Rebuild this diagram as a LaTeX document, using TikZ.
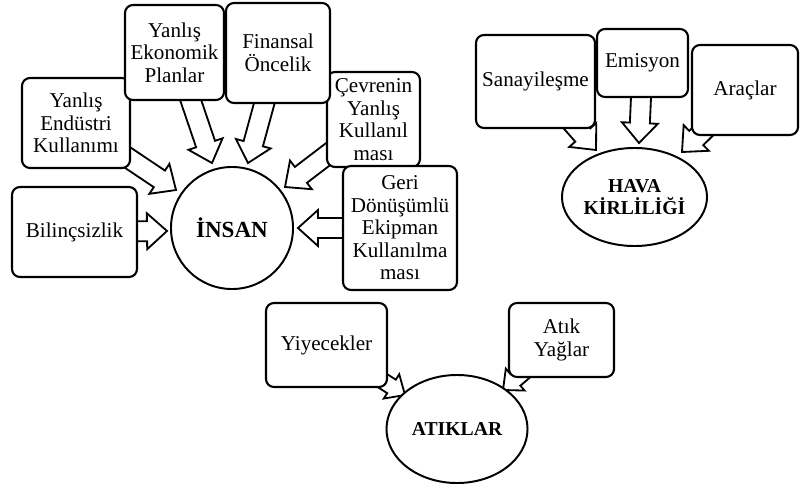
\documentclass[tikz,border=0pt]{standalone}
\usepackage{fontspec}
\setmainfont{Liberation Serif}
\usetikzlibrary{calc,backgrounds,shapes.geometric}
\newcommand{\blockarrow}[3][1]{%
  \coordinate (hb) at ($(#3)!#1*0.5cm!(#2)$);
  \draw[blockarr] ($(#2)!#1*0.25cm!90:(#3)$) -- ($(hb)!#1*0.25cm!90:(#3)$) -- ($(hb)!#1*0.45cm!90:(#3)$) -- (#3)
    -- ($(hb)!#1*0.45cm!-90:(#3)$) -- ($(hb)!#1*0.25cm!-90:(#3)$) -- ($(#2)!#1*0.25cm!-90:(#3)$) -- cycle;}
\begin{document}
\begin{tikzpicture}[x=0.025cm,y=-0.025cm,line join=round,
  tbox/.style={draw,fill=white,rounded corners=0.2cm,line width=1.5pt,align=center,inner sep=0pt,font=\fontsize{15}{16}\selectfont},
  hub/.style={draw,fill=white,ellipse,line width=1.4pt,align=center,inner sep=0pt,font=\bfseries\fontsize{14}{15.5}\selectfont},
  blockarr/.style={draw,fill=white,line width=1.3pt,line join=miter}]
\useasboundingbox (0,0) rectangle (800,486);
\node[tbox,minimum width=3.125cm,minimum height=2.25cm] (bilinc) at (74.5,232) {Bilinçsizlik};
\node[tbox,minimum width=2.7cm,minimum height=2.25cm] (endustri) at (76,123) {Yanlış\\Endüstri\\Kullanımı};
\node[tbox,minimum width=2.475cm,minimum height=2.375cm] (ekonomik) at (174.5,52.5) {Yanlış\\Ekonomik\\Planlar};
\node[tbox,minimum width=2.325cm,minimum height=2.375cm] (cevre) at (373.5,119.5) {Çevrenin\\Yanlış\\Kullanıl\\ması};
\node[tbox,minimum width=2.6cm,minimum height=2.5cm] (finansal) at (278,53) {Finansal\\Öncelik};
\node[tbox,minimum width=2.85cm,minimum height=3.1cm] (geri) at (400,228) {Geri\\Dönüşümlü\\Ekipman\\Kullanılma\\ması};
\node[hub,circle,minimum size=3.05cm,font=\bfseries\fontsize{16.4}{18}\selectfont] (insan) at (232,228) {İNSAN};
\node[tbox,minimum width=2.975cm,minimum height=2.325cm] (sanayi) at (535.5,81.5) {Sanayileşme};
\node[tbox,minimum width=2.275cm,minimum height=1.7cm] (emisyon) at (642.5,63) {Emisyon};
\node[tbox,minimum width=2.65cm,minimum height=2.25cm] (araclar) at (745,90) {Araçlar};
\node[hub,minimum width=3.625cm,minimum height=2.45cm] (hava) at (634.5,197) {HAVA\\KİRLİLİĞİ};
\node[tbox,minimum width=3.025cm,minimum height=2.1cm] (yiyecek) at (326.5,345) {Yiyecekler};
\node[tbox,minimum width=2.625cm,minimum height=1.85cm] (atik) at (561.5,340) {Atık\\Yağlar};
\node[hub,minimum width=3.525cm,minimum height=2.7cm] (atiklar) at (457,429) {ATIKLAR};
\coordinate (t1) at (167,231);
\coordinate (t2) at (176,190);
\coordinate (t3) at (212,163);
\coordinate (t4) at (248,163);
\coordinate (t5) at (285,187);
\coordinate (t6) at (298,228);
\coordinate (h1) at (596,150);
\coordinate (h2) at (639,143);
\coordinate (h3) at (682,152);
\coordinate (a1) at (405,395);
\coordinate (a2) at (503,390);
\begin{pgfonlayer}{background}
\blockarrow{bilinc}{t1}
\blockarrow{endustri}{t2}
\blockarrow{ekonomik}{t3}
\blockarrow{finansal}{t4}
\blockarrow{cevre}{t5}
\blockarrow{geri}{t6}
\blockarrow{sanayi}{h1}
\blockarrow{emisyon}{h2}
\blockarrow{araclar}{h3}
\blockarrow[0.8]{yiyecek}{a1}
\blockarrow[0.8]{atik}{a2}
\end{pgfonlayer}
\end{tikzpicture}
\end{document}
